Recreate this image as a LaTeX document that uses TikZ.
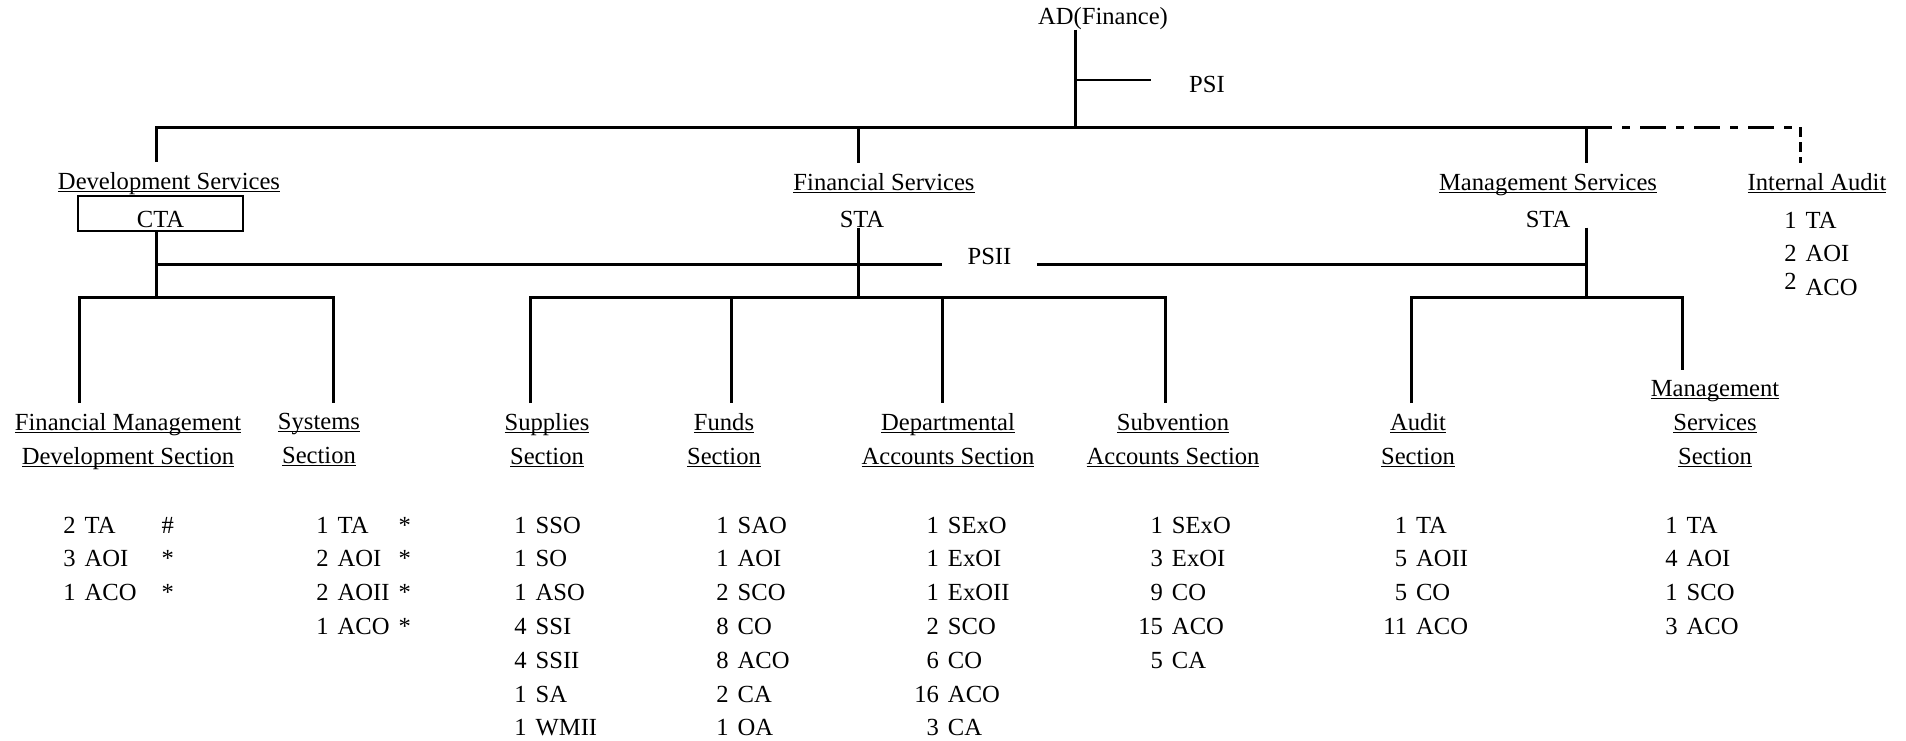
\documentclass[tikz,border=0pt]{standalone}
\usepackage{fontspec}
\setmainfont{Liberation Serif}
\newcommand{\undl}[1]{\leavevmode\setbox0\hbox{#1}\rlap{\rule[-1.3pt]{\wd0}{0.55pt}}\box0}

\begin{document}
\begin{tikzpicture}[
  x=0.5pt, y=-0.5pt,
  every node/.style={font=\fontsize{12.3}{16.9}\selectfont, inner sep=0pt},
  post/.style={anchor=base},
  unit/.style={anchor=base, inner ysep=5pt},
  section/.style={anchor=north, align=center, inner ysep=5pt},
  staff/.style={anchor=north west},
  headbox/.style={draw=black, line width=1.4pt, minimum width=82.5pt, minimum height=17.5pt, text height=13.5pt, text depth=0pt},
  link/.style={draw=black, line width=1.5pt},
  stub/.style={draw=black, line width=1pt},
  dotlink/.style={draw=black, line width=1.5pt, dash pattern=on 13pt off 5pt on 4pt off 5pt},
  dashlink/.style={draw=black, line width=1.5pt, dash pattern=on 5pt off 2.5pt}
]
  \useasboundingbox (0,0) rectangle (1906,740);

  \node[post] (ad) at (1103,24) {AD(Finance)};
  \node[post] (psi) at (1207,92) {PSI};

  \node[unit] (dev) at (169,189) {\undl{Development Services}};
  \node[headbox, anchor=base] (cta) at (160.5,227) {CTA};
  \node[unit] (fin) at (884,190) {\undl{Financial Services}};
  \node[post] (finsta) at (862,227) {STA};
  \node[unit] (mgt) at (1548,190) {\undl{Management Services}};
  \node[post] (mgtsta) at (1548,227) {STA};
  \node[unit] (ia) at (1817,190) {\undl{Internal Audit}};
  \node[staff] (iastaff) at (1784,204) {\begin{tabular}{@{}r@{\hspace{4.5pt}}l@{}}1&TA\\2&AOI\\\raisebox{3pt}{2}&ACO\end{tabular}};
  \node[post, inner xsep=12.5pt] (psii) at (989.5,264) {PSII};

  \node[section] (fmd) at (128,403) {\undl{Financial Management}\\\undl{Development Section}};
  \node[section] (sys) at (319,403) {\undl{Systems}\\\undl{Section}};
  \node[section] (sup) at (547,403) {\undl{Supplies}\\\undl{Section}};
  \node[section] (fnd) at (724,403) {\undl{Funds}\\\undl{Section}};
  \node[section] (dep) at (948,403) {\undl{Departmental}\\\undl{Accounts Section}};
  \node[section] (sub) at (1173,403) {\undl{Subvention}\\\undl{Accounts Section}};
  \node[section] (aud) at (1418,403) {\undl{Audit}\\\undl{Section}};
  \node[section] (msec) at (1715,370) {\undl{Management}\\\undl{Services}\\\undl{Section}};

  \node[staff] (fmdstaff) at (63,509) {\begin{tabular}{@{}r@{\hspace{4.5pt}}l@{\hspace{12.5pt}}l@{}}2&TA&\#\\3&AOI&*\\1&ACO&*\end{tabular}};
  \node[staff] (sysstaff) at (316,509) {\begin{tabular}{@{}r@{\hspace{4.5pt}}l@{\hspace{4.5pt}}l@{}}1&TA&*\\2&AOI&*\\2&AOII&*\\1&ACO&*\end{tabular}};
  \node[staff] (supstaff) at (514,509) {\begin{tabular}{@{}r@{\hspace{4.5pt}}l@{}}1&SSO\\1&SO\\1&ASO\\4&SSI\\4&SSII\\1&SA\\1&WMII\end{tabular}};
  \node[staff] (fndstaff) at (716,509) {\begin{tabular}{@{}r@{\hspace{4.5pt}}l@{}}1&SAO\\1&AOI\\2&SCO\\8&CO\\8&ACO\\2&CA\\1&OA\end{tabular}};
  \node[staff] (depstaff) at (914,509) {\begin{tabular}{@{}r@{\hspace{4.5pt}}l@{}}1&SExO\\1&ExOI\\1&ExOII\\2&SCO\\6&CO\\16&ACO\\3&CA\end{tabular}};
  \node[staff] (substaff) at (1138,509) {\begin{tabular}{@{}r@{\hspace{4.5pt}}l@{}}1&SExO\\3&ExOI\\9&CO\\15&ACO\\5&CA\end{tabular}};
  \node[staff] (audstaff) at (1383,509) {\begin{tabular}{@{}r@{\hspace{4.5pt}}l@{}}1&TA\\5&AOII\\5&CO\\11&ACO\end{tabular}};
  \node[staff] (msecstaff) at (1665,509) {\begin{tabular}{@{}r@{\hspace{4.5pt}}l@{}}1&TA\\4&AOI\\1&SCO\\3&ACO\end{tabular}};

  \coordinate (hub) at (1075,127);
  \coordinate (psijoin) at (1075,80);
  \coordinate (devtop) at (156,127);
  \coordinate (fintop) at (858,127);
  \coordinate (mgttop) at (1586,127);
  \coordinate (iatop) at (1800,127);
  \coordinate (devmid) at (156,264);
  \coordinate (mgtmid) at (1586,264);
  \coordinate (devfork) at (156,297);
  \coordinate (finfork) at (858,297);
  \coordinate (mgtfork) at (1586,297);
  \coordinate (fmdleg) at (79,297);
  \coordinate (sysleg) at (333,297);
  \coordinate (supleg) at (530,297);
  \coordinate (fndleg) at (731,297);
  \coordinate (depleg) at (942,297);
  \coordinate (subleg) at (1165,297);
  \coordinate (audleg) at (1411,297);
  \coordinate (msecleg) at (1682,297);

  \draw[link] (hub |- ad.south) -- (hub);
  \draw[stub] (psijoin) -- ([xshift=-19pt]psijoin -| psi.west);
  \draw[link] (devtop |- dev.north) -- (devtop) -- (mgttop) -- (mgttop |- mgt.north);
  \draw[link] (fintop) -- (fintop |- fin.north);
  \draw[dotlink] (mgttop) -- (iatop);
  \draw[dashlink] (iatop) -- (iatop |- ia.north);

  \draw[link] (devfork |- cta.south) -- (devfork);
  \draw[link] (finfork |- finsta.south) -- (finfork);
  \draw[link] (mgtfork |- mgtsta.south) -- (mgtfork);
  \draw[link] (devmid) -- (psii.base west);
  \draw[link] (psii.base east) -- (mgtmid);

  \draw[link] (fmdleg |- fmd.north) -- (fmdleg) -- (sysleg) -- (sysleg |- sys.north);
  \draw[link] (supleg |- sup.north) -- (supleg) -- (subleg) -- (subleg |- sub.north);
  \draw[link] (fndleg) -- (fndleg |- fnd.north);
  \draw[link] (depleg) -- (depleg |- dep.north);
  \draw[link] (audleg |- aud.north) -- (audleg) -- (msecleg) -- (msecleg |- msec.north);
\end{tikzpicture}
\end{document}
